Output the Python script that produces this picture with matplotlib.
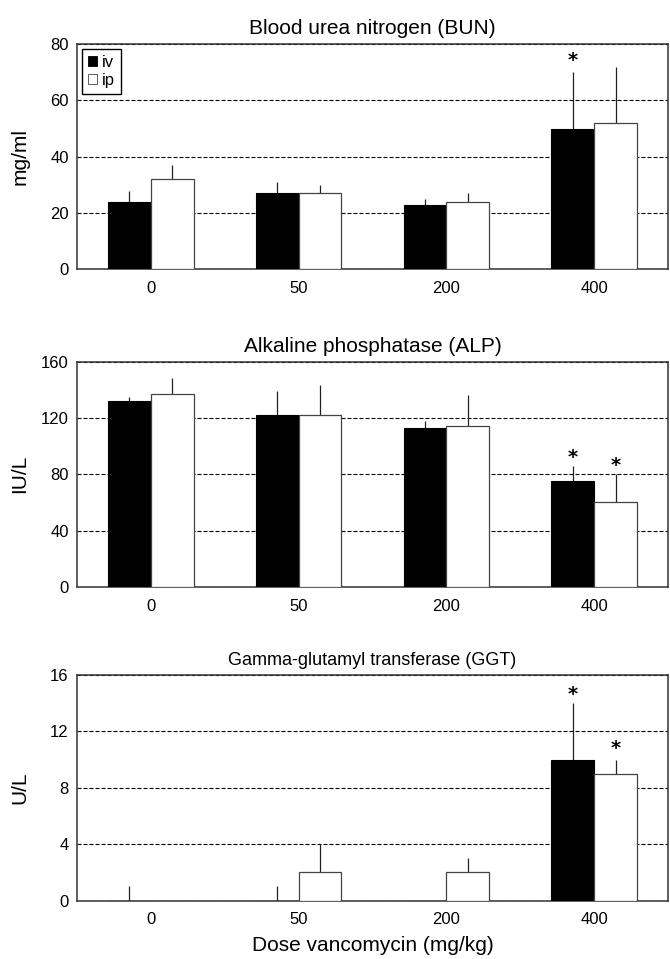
import numpy as np
import matplotlib.pyplot as plt
from matplotlib.patches import Patch

plt.rcParams['font.family'] = ['Liberation Sans', 'DejaVu Sans']

doses = ['0', '50', '200', '400']

# BUN (mg/ml)
bun_iv = [24, 27, 23, 50]
bun_iv_err = [4, 4, 2, 20]
bun_ip = [32, 27, 24, 52]
bun_ip_err = [5, 3, 3, 20]
bun_star_iv = [None, None, None, 74]
bun_star_ip = [None, None, None, None]

# ALP (IU/L)
alp_iv = [132, 122, 113, 75]
alp_iv_err = [3, 17, 4.5, 11]
alp_ip = [137, 122, 114, 60]
alp_ip_err = [11, 21, 22, 20]
alp_star_iv = [None, None, None, 92]
alp_star_ip = [None, None, None, 86]

# GGT (U/L)
ggt_iv = [0, 0, 0, 10]
ggt_iv_err = [1, 1, np.nan, 4]
ggt_ip = [0, 2, 2, 9]
ggt_ip_err = [np.nan, 2, 1, 1]
ggt_star_iv = [None, None, None, 14.6]
ggt_star_ip = [None, None, None, 10.8]

panels = [
    ('Blood urea nitrogen (BUN)', 15, 'mg/ml', [0, 20, 40, 60, 80],
     bun_iv, bun_iv_err, bun_ip, bun_ip_err, bun_star_iv, bun_star_ip),
    ('Alkaline phosphatase (ALP)', 15, 'IU/L', [0, 40, 80, 120, 160],
     alp_iv, alp_iv_err, alp_ip, alp_ip_err, alp_star_iv, alp_star_ip),
    ('Gamma-glutamyl transferase (GGT)', 13, 'U/L', [0, 4, 8, 12, 16],
     ggt_iv, ggt_iv_err, ggt_ip, ggt_ip_err, ggt_star_iv, ggt_star_ip),
]

fig = plt.figure(figsize=(6.7, 9.59), dpi=100)
# axes boxes in figure fractions (left, bottom, width, height)
boxes = [
    [0.1149, 0.7190, 0.8821, 0.2351],
    [0.1149, 0.3879, 0.8821, 0.2351],
    [0.1149, 0.0610, 0.8821, 0.2351],
]

x = np.arange(len(doses))
w = 0.29
fs = 12

for i, (title, tfs, ylab, yt, iv, iv_err, ip, ip_err, s_iv, s_ip) in enumerate(panels):
    ax = fig.add_axes(boxes[i])
    ax.bar(x - w/2, iv, w, color='black', edgecolor='black', lw=0.8, zorder=3)
    ax.bar(x + w/2, ip, w, color='white', edgecolor='#444444', lw=0.9, zorder=3)
    ax.errorbar(x - w/2, iv, yerr=[np.zeros(4), np.array(iv_err, dtype=float)],
                fmt='none', ecolor='#222222', elinewidth=0.9, capsize=0, zorder=2)
    ax.errorbar(x + w/2, ip, yerr=[np.zeros(4), np.array(ip_err, dtype=float)],
                fmt='none', ecolor='#222222', elinewidth=0.9, capsize=0, zorder=2)
    for j in range(4):
        if s_iv[j] is not None:
            ax.text(x[j] - w/2, s_iv[j], '*', ha='center', va='center',
                    fontsize=14, fontweight='bold', family='DejaVu Sans', zorder=4)
        if s_ip[j] is not None:
            ax.text(x[j] + w/2, s_ip[j], '*', ha='center', va='center',
                    fontsize=14, fontweight='bold', family='DejaVu Sans', zorder=4)

    ax.set_xlim(-0.5, 3.5)
    ax.set_ylim(yt[0], yt[-1])
    ax.set_yticks(yt)
    ax.set_xticks(x)
    ax.set_xticklabels(doses)
    ax.tick_params(length=0, labelsize=fs)
    ax.tick_params(axis='y', pad=6)
    ax.tick_params(axis='x', pad=8.5)
    ax.grid(axis='y', linestyle=(0, (3.6, 1.8)), color='black', lw=0.8)
    ax.set_axisbelow(True)
    for sp in ax.spines.values():
        sp.set_linewidth(1.1)
        sp.set_color('#333333')
    ax.set_ylabel(ylab, fontsize=15)
    ax.yaxis.set_label_coords(-0.081, 0.5)
    ax.set_title(title, fontsize=tfs, pad=7)

    if i == 0:
        handles = [Patch(facecolor='black', edgecolor='black', lw=0.6),
                   Patch(facecolor='white', edgecolor='#444444', lw=0.6)]
        leg = ax.legend(handles, ['iv', 'ip'], loc='upper left', fontsize=fs,
                        bbox_to_anchor=(0.0085, 0.978), fancybox=False, framealpha=1,
                        edgecolor='black', handlelength=0.55, handleheight=0.55,
                        handletextpad=0.3, borderpad=0.35, labelspacing=0.2,
                        borderaxespad=0)
        leg.get_frame().set_linewidth(1)
    if i == 2:
        ax.text(0.5, -0.2247, 'Dose vancomycin (mg/kg)', transform=ax.transAxes,
                ha='center', va='baseline', fontsize=15)

fig.savefig('out.png', dpi=100)
